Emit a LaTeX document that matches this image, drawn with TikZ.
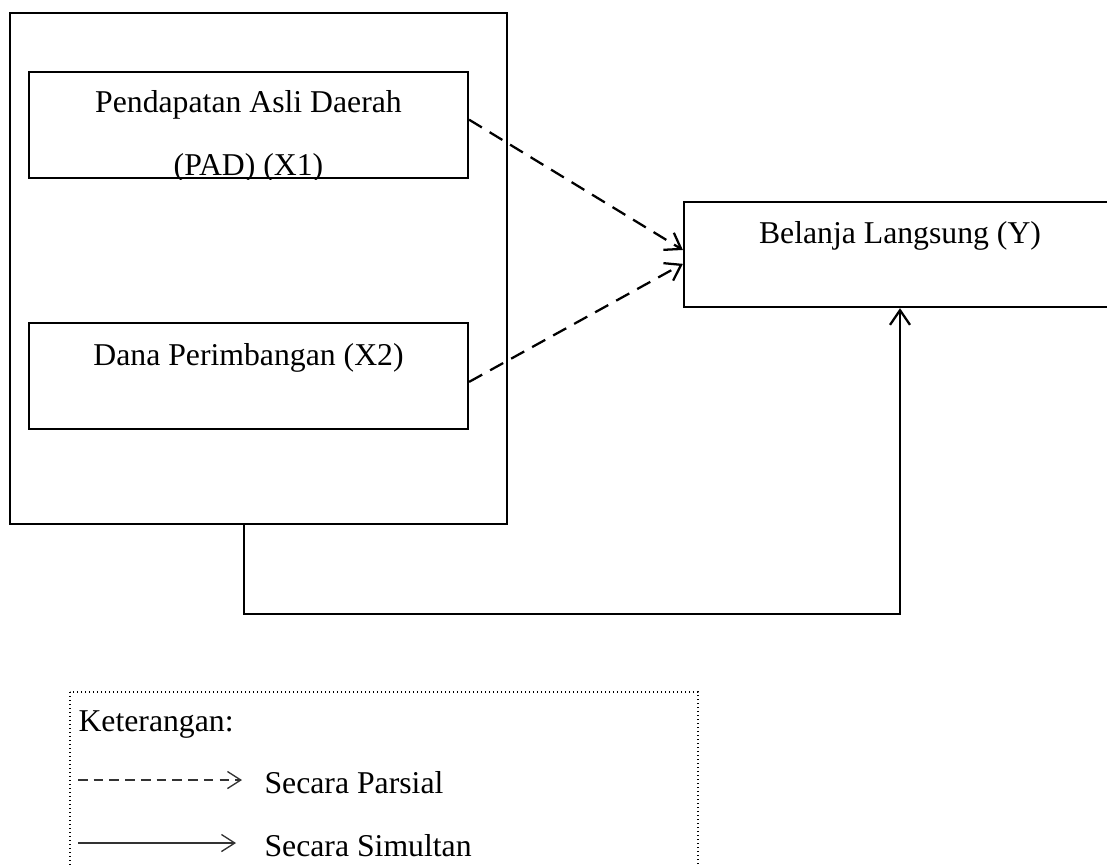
\documentclass[tikz,border=0pt]{standalone}
\usepackage{fontspec}
\setmainfont{Liberation Serif}
\usetikzlibrary{arrows.meta}

\tikzset{
  box/.style={draw, line width=0.85pt, inner sep=0pt},
  varbox/.style={box, minimum width=164.6pt, minimum height=39.75pt},
  txt/.style={inner sep=0pt, anchor=base, font=\fontsize{11.9}{14}\selectfont},
  parsial/.style={line width=0.85pt, dash pattern=on 5.6pt off 3.4pt,
    -{Straight Barb[length=5.5pt,width=7.5pt,line width=0.85pt]}},
  simultan/.style={line width=0.85pt,
    -{Straight Barb[length=5.5pt,width=7.5pt,line width=0.85pt]}},
  keyparsial/.style={line width=0.5pt, black!80, dash pattern=on 3.6pt off 2.3pt,
    -{Straight Barb[length=5pt,width=6.4pt,line width=0.5pt]}},
  keysimultan/.style={line width=0.5pt, black!80,
    -{Straight Barb[length=5pt,width=6.4pt,line width=0.5pt]}},
  keybox/.style={line width=0.55pt, dash pattern=on 0.55pt off 0.95pt}
}

\begin{document}
\begin{tikzpicture}[x=0.375pt, y=-0.375pt]
  \useasboundingbox (0,0) rectangle (1107,866);

  % Boxes
  \node[box, minimum width=186.4pt, minimum height=191.6pt] (outer) at (258.5,268.5) {};
  \node[varbox] (pad) at (248.5,125) {};
  \node[varbox] (dana) at (248.5,376) {};
  \node[box, minimum width=162pt, minimum height=39.4pt] (belanja) at (900,254.5) {};

  % Texts
  \node[txt] (padtxt) at (248.5,112) {Pendapatan Asli Daerah};
  \begin{scope}
    \clip (pad.south west) rectangle (pad.north east);
    \node[txt] (padtxtb) at (248.5,175) {(PAD) (X1)};
  \end{scope}
  \node[txt] (danatxt) at (248.5,365) {Dana Perimbangan (X2)};
  \node[txt] (belanjatxt) at (900,243) {Belanja Langsung (Y)};

  % Arrows
  \draw[parsial] ([yshift=2pt]pad.east) -- ([yshift=1.7pt]belanja.west);
  \draw[parsial] ([yshift=-2.2pt]dana.east) -- ([yshift=-3.5pt]belanja.west);
  \draw[simultan] ([xshift=-5.4pt]outer.south) -- ++(0,89) -| (belanja.south);

  % Keterangan
  \draw[keybox] (70,692) rectangle (698,900);
  \node[txt, anchor=base west] (ket) at (78,731) {Keterangan:};
  \coordinate (kp1) at (78,780);
  \coordinate (kp2) at (242,780);
  \coordinate (ks1) at (78,843);
  \coordinate (ks2) at (236,843);
  \draw[keyparsial] (kp1) -- (kp2);
  \draw[keysimultan] (ks1) -- (ks2);
  \node[txt, anchor=base west] (parsialtxt) at (264,793) {Secara Parsial};
  \node[txt, anchor=base west] (simultantxt) at (264,856) {Secara Simultan};
\end{tikzpicture}
\end{document}
